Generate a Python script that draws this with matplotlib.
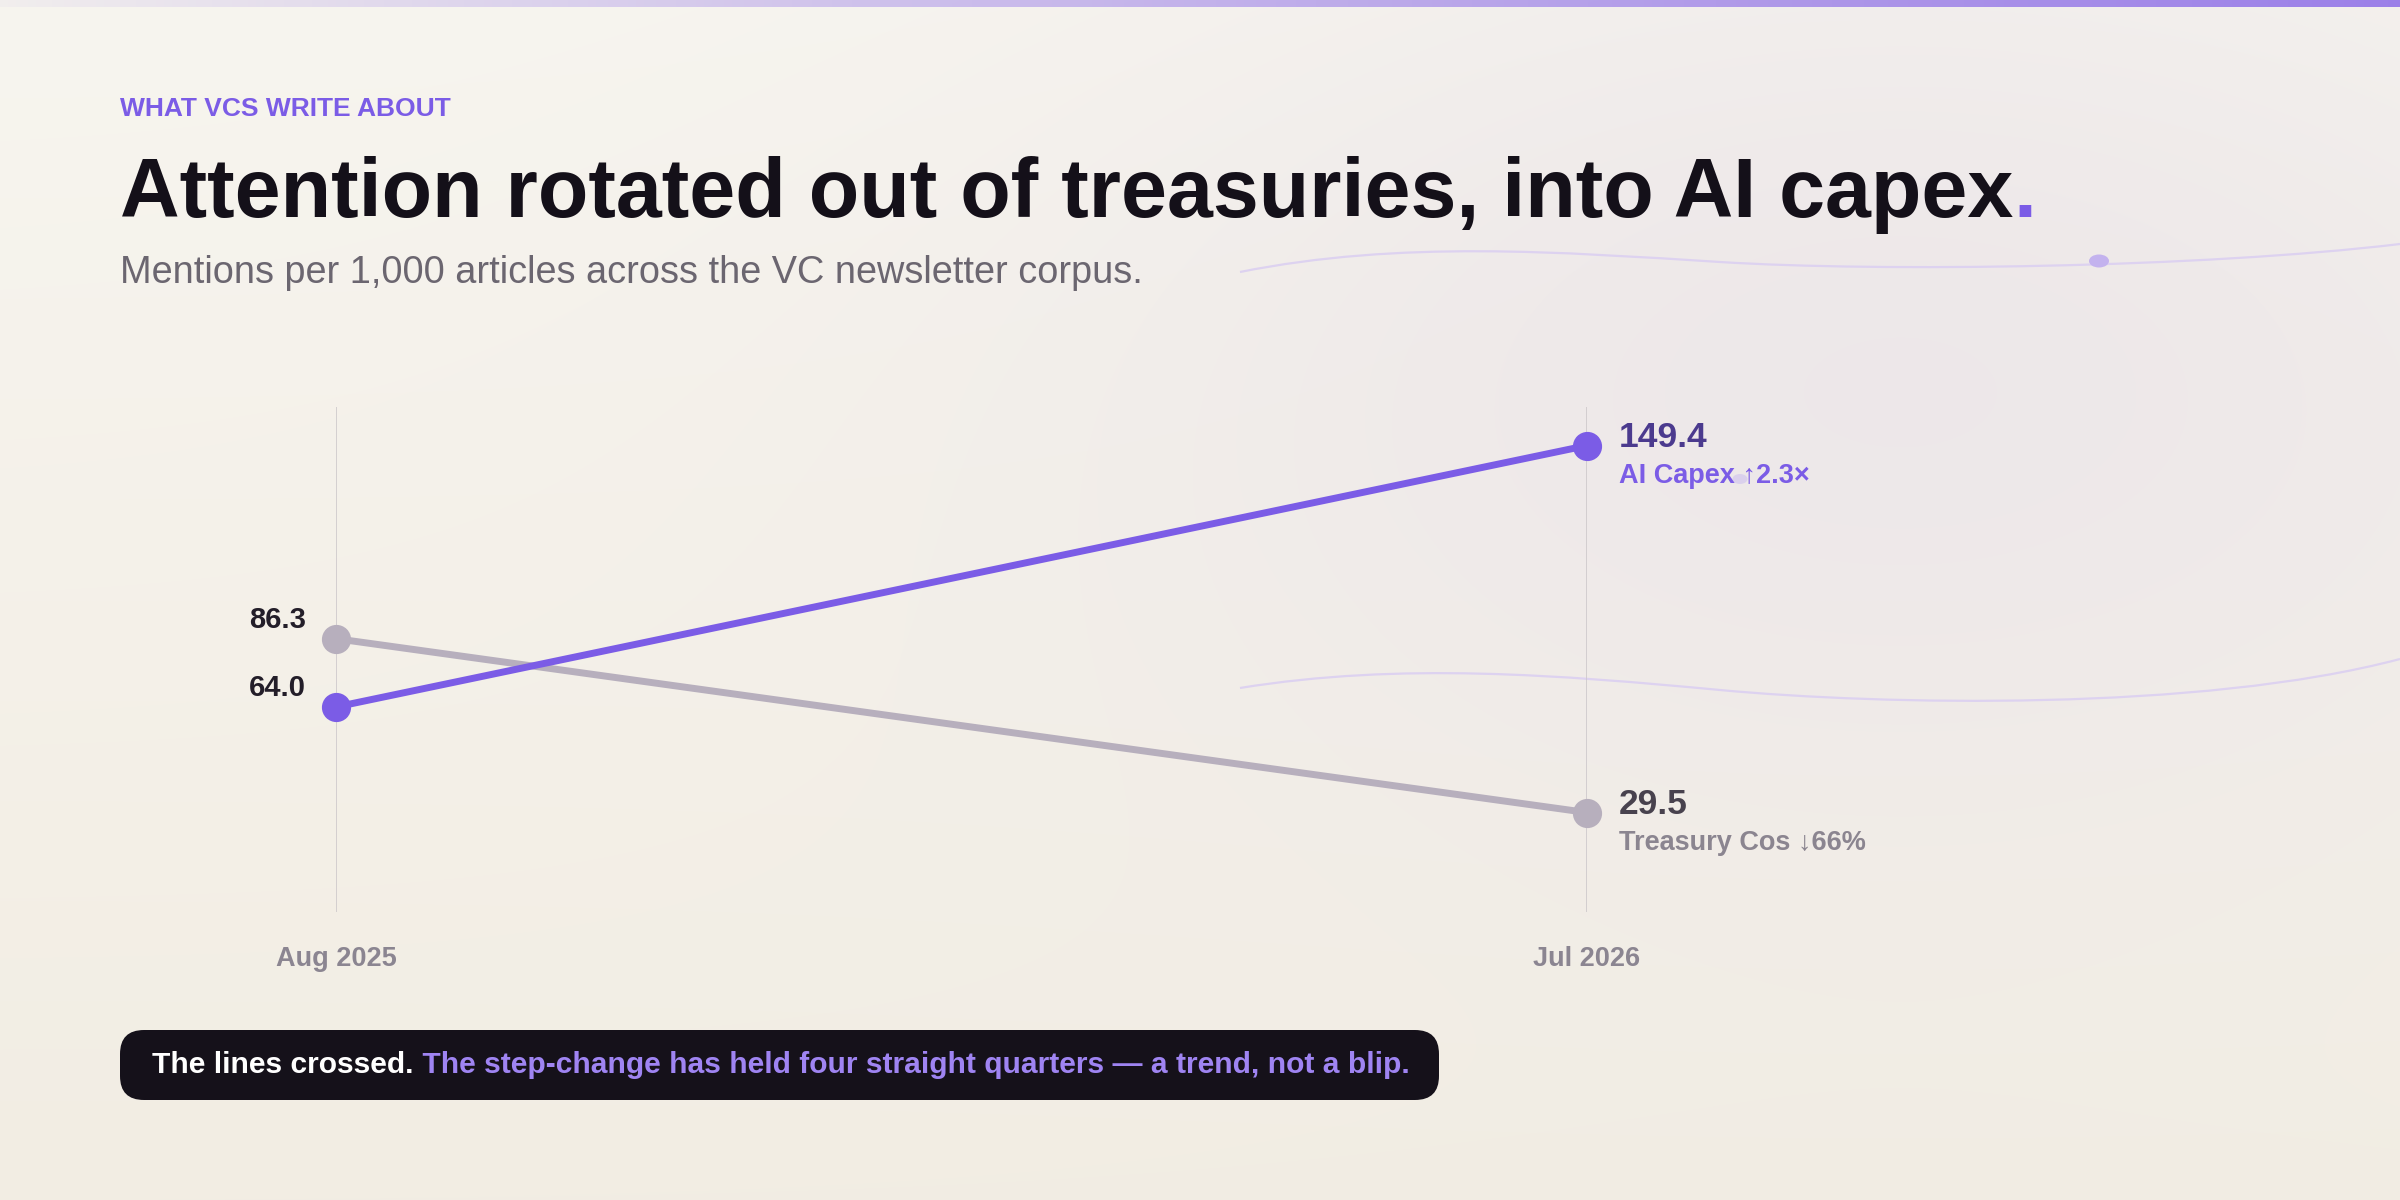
import numpy as np
import matplotlib
matplotlib.use("Agg")
import matplotlib.pyplot as plt
from matplotlib.path import Path
from matplotlib.patches import PathPatch, FancyBboxPatch, Ellipse

plt.rcParams['font.family'] = ['Liberation Sans', 'DejaVu Sans']

# data
periods = ["Aug 2025", "Jul 2026"]
ai_capex = [64.0, 149.4]
treasury = [86.3, 29.5]
series_names = ["AI Capex \u21912.3\u00d7", "Treasury Cos \u219366%"]

eyebrow = "WHAT VCS WRITE ABOUT"
title = "Attention rotated out of treasuries, into AI capex"
subtitle = "Mentions per 1,000 articles across the VC newsletter corpus."
callout_a = "The lines crossed."
callout_b = " The step-change has held four straight quarters \u2014 a trend, not a blip."

PURPLE = "#7b5ce6"
GRAY = "#b7afbd"
INK = "#141019"

W, H = 2400, 1200
fig = plt.figure(figsize=(24, 12), dpi=100)


def fx(x):
    return x / W


def fy(y):
    return 1 - y / H


# background: soft vertical gradient + cool glow on the right
bg = fig.add_axes([0, 0, 1, 1], zorder=-10)
yy, xx = np.mgrid[0:H, 0:W]
top = np.array([247, 245, 239]) / 255
bot = np.array([242, 237, 227]) / 255
t = (yy / H)[..., None]
img = top * (1 - t) + bot * t
glow = np.exp(-(((xx - 1900) / 850.0) ** 2 + ((yy - 380) / 480.0) ** 2))[..., None]
tint = np.array([236, 230, 233]) / 255
img = img * (1 - 0.85 * glow) + tint * 0.85 * glow
bg.imshow(img, extent=[0, W, H, 0], aspect='auto')
bg.set_xlim(0, W)
bg.set_ylim(H, 0)
bg.axis('off')

# top accent bar
bar = np.linspace(0, 1, 600)
bar_rgb = np.zeros((1, 600, 4))
bar_rgb[0, :, 0] = 0.61
bar_rgb[0, :, 1] = 0.50
bar_rgb[0, :, 2] = 0.91
bar_rgb[0, :, 3] = 0.05 + 0.95 * bar ** 0.9
bg.imshow(bar_rgb, extent=[0, W, 7, 0], aspect='auto')

# faint decorative waves
wave_col = "#ddd2f0"
waves = [
    [(1240, 272), (1400, 240), (1560, 252), (1720, 262), (1880, 272), (2200, 268), (2400, 244)],
    [(1240, 688), (1400, 662), (1560, 675), (1720, 690), (1880, 705), (2200, 712), (2400, 659)],
]
for verts in waves:
    codes = [Path.MOVETO] + [Path.CURVE4] * 6
    bg.add_patch(PathPatch(Path(verts, codes), fill=False, ec=wave_col, lw=1.6))
bg.add_patch(Ellipse((2099, 261), 20, 13, color="#c3b2ee", lw=0))
bg.add_patch(Ellipse((1740, 479), 15, 10, color="#d6cbee", lw=0, alpha=0.8))

# header text
fig.text(fx(120), fy(116), eyebrow, color=PURPLE, fontsize=19, fontweight='bold',
         va='baseline', ha='left')
ttl = fig.text(fx(120), fy(217), title, color=INK, fontsize=59.5, fontweight='bold',
               va='baseline', ha='left')
fig.text(fx(120), fy(283), subtitle, color="#6b6670", fontsize=27.3,
         va='baseline', ha='left')

renderer = fig.canvas.get_renderer()
tb = ttl.get_window_extent(renderer)
fig.text(tb.x1 / W, fy(217), ".", color=PURPLE, fontsize=59.5, fontweight='bold',
         va='baseline', ha='left')

# chart
ax = fig.add_axes([fx(336), fy(912), fx(1587 - 336), (912 - 407) / H])
ax.set_xlim(0, 1)
ax.set_ylim(-3, 162)
ax.axis('off')
xs = [0, 1]
for x in xs:
    ax.axvline(x, color="#cbc6c9", lw=1.1, zorder=1)

ax.plot(xs, treasury, color=GRAY, lw=5, marker='o', ms=20, zorder=3,
        clip_on=False, solid_capstyle='round')
ax.plot(xs, ai_capex, color=PURPLE, lw=5, marker='o', ms=20, zorder=4,
        clip_on=False, solid_capstyle='round')

# left start values
for v in [treasury[0], ai_capex[0]]:
    ax.annotate(f"{v:.1f}", (xs[0], v), xytext=(-21.5, 7.7), textcoords='offset points',
                ha='right', va='baseline', fontsize=21, fontweight='bold', color="#231e29")

# right end values + names
ends = [(ai_capex[1], series_names[0], "#4b3a8e", PURPLE),
        (treasury[1], series_names[1], "#48424e", "#8b8590")]
for v, name, c1, c2 in ends:
    ax.annotate(f"{v:.1f}", (xs[1], v), xytext=(23, -0.9), textcoords='offset points',
                ha='left', va='baseline', fontsize=25.5, fontweight='bold', color=c1)
    ax.annotate(name, (xs[1], v), xytext=(23, -26.8), textcoords='offset points',
                ha='left', va='baseline', fontsize=19.5, fontweight='bold', color=c2)

for x, lab in zip(xs, periods):
    ax.annotate(lab, (x, 0), xycoords=('data', 'axes fraction'), xytext=(0, -38.9),
                textcoords='offset points', ha='center', va='baseline',
                fontsize=19.5, fontweight='bold', color="#8b8591")

# callout box
box = FancyBboxPatch((fx(120), fy(1100)), fx(1439 - 120), (1100 - 1030) / H,
                     boxstyle="round,pad=0,rounding_size=0.01", transform=fig.transFigure,
                     fc="#15111a", ec='none', mutation_aspect=2)
fig.patches.append(box)
ca = fig.text(fx(152), fy(1073), callout_a, color="white", fontsize=21.6,
              fontweight='bold', va='baseline', ha='left')
cb = ca.get_window_extent(renderer)
fig.text(cb.x1 / W, fy(1073), callout_b, color="#9f84f2", fontsize=21.6,
         fontweight='bold', va='baseline', ha='left')

fig.savefig("out.png", dpi=100)
